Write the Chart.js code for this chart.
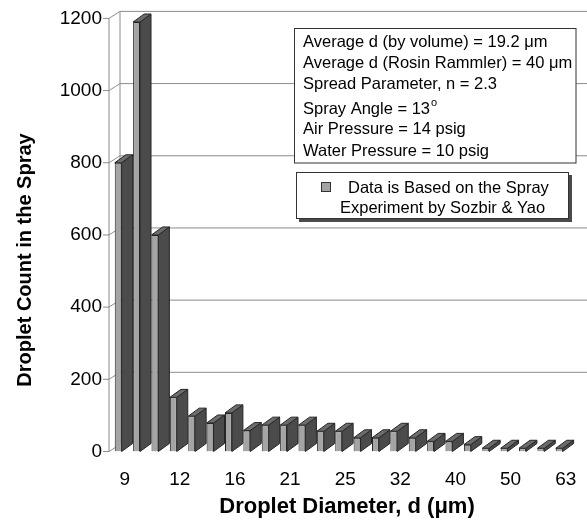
<!DOCTYPE html>
<html>
<head>
<meta charset="utf-8">
<script src="https://cdn.jsdelivr.net/npm/chart.js@4.4.1/dist/chart.umd.min.js"></script>
<style>
  html, body { margin: 0; padding: 0; background: #fff; }
  canvas { display: block; }
</style>
</head>
<body>
<canvas id="sprayChart" width="587" height="524"></canvas>
<script>
// droplet diameter bins (um); only every third one gets a tick label
const diameters = [9, 10, 11, 12, 13, 14, 16, 17, 19, 21, 22, 23, 25, 27, 29, 32, 34, 37, 40, 43, 46, 50, 54, 58, 63];
const shownDiameters = [9, 12, 16, 21, 25, 32, 40, 50, 63];
const dropletCounts = [800, 1190, 600, 150, 98, 79, 107, 58, 73, 73, 73, 56, 56, 38, 38, 56, 38, 28, 28, 19, 9, 9, 9, 9, 9];
const countMax = 1200;
const countStep = 200;

const infoLines = [
	'Average d (by volume) = 19.2 \u03bcm',
	'Average d (Rosin Rammler) = 40 \u03bcm',
	'Spread Parameter, n = 2.3',
	'Spray Angle = 13',
	'Air Pressure = 14 psig',
	'Water Pressure = 10 psig'
];
const legendLines = ['Data is Based on the Spray', 'Experiment by Sozbir & Yao'];

// fake 3D: wall and bar depth offsets
const WALL_DX = 11, WALL_DY = 7;
const BAR_DX = 11, BAR_DY = 8;

const FRONT = '#a4a4a4', SIDE = '#4b4b4b', TOP = '#6c6c6c', EDGE = '#262626';
const FONT = '"Liberation Sans", Arial, sans-serif';

function poly(ctx, pts, fill) {
	ctx.beginPath();
	ctx.moveTo(pts[0][0], pts[0][1]);
	for (let i = 1; i < pts.length; i++) ctx.lineTo(pts[i][0], pts[i][1]);
	ctx.closePath();
	ctx.fillStyle = fill;
	ctx.fill();
	ctx.stroke();
}

const depth3d = {
	id: 'depth3d',
	beforeDatasetsDraw(chart) {
		const ctx = chart.ctx;
		const y = chart.scales.y;
		const area = chart.chartArea;
		const y0 = y.getPixelForValue(0);
		const yTop = y.getPixelForValue(countMax);
		ctx.save();
		ctx.lineWidth = 1;
		ctx.strokeStyle = '#8c8c8c';
		ctx.beginPath();
		// front axis and back wall edge
		ctx.moveTo(area.left, y0);
		ctx.lineTo(area.left, yTop);
		ctx.moveTo(area.left + WALL_DX, y0 - WALL_DY);
		ctx.lineTo(area.left + WALL_DX, yTop - WALL_DY);
		for (let v = 0; v <= countMax; v += countStep) {
			const py = y.getPixelForValue(v);
			// tick mark, connector to wall, gridline on the wall
			ctx.moveTo(area.left - 6, py);
			ctx.lineTo(area.left, py);
			ctx.lineTo(area.left + WALL_DX, py - WALL_DY);
			if (v > 0) ctx.lineTo(chart.width, py - WALL_DY);
		}
		ctx.stroke();
		ctx.restore();
	},
	afterDatasetsDraw(chart) {
		const ctx = chart.ctx;
		const bars = chart.getDatasetMeta(0).data;
		ctx.save();
		ctx.lineWidth = 1;
		ctx.strokeStyle = EDGE;
		ctx.lineJoin = 'round';
		bars.forEach(bar => {
			const { x, y, base, width } = bar.getProps(['x', 'y', 'base', 'width'], true);
			const l = x - width / 2, r = x + width / 2;
			poly(ctx, [[r, y], [r + BAR_DX, y - BAR_DY], [r + BAR_DX, base - BAR_DY], [r, base]], SIDE);
			poly(ctx, [[l, y], [l + BAR_DX, y - BAR_DY], [r + BAR_DX, y - BAR_DY], [r, y]], TOP);
		});
		ctx.restore();
	},
	afterDraw(chart) {
		const ctx = chart.ctx;
		ctx.save();
		ctx.fillStyle = '#000';

		// axis titles
		ctx.textAlign = 'center';
		ctx.textBaseline = 'middle';
		ctx.font = 'bold 22px ' + FONT;
		ctx.fillText('Droplet Diameter, d (\u03bcm)', 347, 507);
		ctx.save();
		ctx.translate(25, 260);
		ctx.rotate(-Math.PI / 2);
		ctx.font = 'bold 20px ' + FONT;
		ctx.fillText('Droplet Count in the Spray', 0, 0);
		ctx.restore();

		// info box
		ctx.lineWidth = 1;
		ctx.fillStyle = '#fff';
		ctx.strokeStyle = '#333';
		ctx.fillRect(294.5, 28.5, 281.5, 134.5);
		ctx.strokeRect(294.5, 28.5, 281.5, 134.5);
		ctx.fillStyle = '#000';
		ctx.textAlign = 'left';
		ctx.textBaseline = 'alphabetic';
		ctx.font = '16.5px ' + FONT;
		const lineY = [41, 62, 83, 108, 128, 150];
		infoLines.forEach((t, i) => {
			ctx.fillText(t, 303, lineY[i] + 6);
		});
		// degree mark as a raised small "o"
		const angleW = ctx.measureText(infoLines[3]).width;
		ctx.font = '11px ' + FONT;
		ctx.fillText('o', 303 + angleW + 1, lineY[3] - 2);

		// legend box with drop shadow
		ctx.fillStyle = '#4a4a4a';
		ctx.fillRect(299, 175, 273, 47);
		ctx.fillStyle = '#fff';
		ctx.fillRect(296.5, 172.5, 272, 46);
		ctx.strokeStyle = '#333';
		ctx.strokeRect(296.5, 172.5, 272, 46);
		ctx.fillStyle = FRONT;
		ctx.fillRect(321.5, 182.5, 9, 9);
		ctx.strokeRect(321.5, 182.5, 9, 9);
		ctx.fillStyle = '#000';
		ctx.font = '16.5px ' + FONT;
		ctx.fillText(legendLines[0], 348, 187 + 6);
		ctx.fillText(legendLines[1], 340, 207 + 6);
		ctx.restore();
	}
};

new Chart(document.getElementById('sprayChart'), {
	type: 'bar',
	data: {
		labels: diameters,
		datasets: [{
			label: 'Droplet count',
			data: dropletCounts,
			backgroundColor: FRONT,
			borderColor: EDGE,
			borderWidth: 1,
			barPercentage: 0.375,
			categoryPercentage: 1
		}]
	},
	options: {
		responsive: false,
		animation: false,
		layout: {
			padding: { top: 15.5, right: 10.5, left: 0, bottom: 0 }
		},
		scales: {
			x: {
				grid: { display: false, drawTicks: false },
				border: { display: false },
				afterFit: s => { s.height = 72.5; },
				ticks: {
					autoSkip: false,
					maxRotation: 0,
					labelOffset: 6.5,
					padding: 17,
					color: '#000',
					font: { family: FONT, size: 19 },
					callback: function (val, i) {
						const d = diameters[i];
						return shownDiameters.includes(d) ? String(d) : '';
					}
				}
			},
			y: {
				min: 0,
				max: countMax,
				grid: { display: false, drawTicks: false },
				border: { display: false },
				afterFit: s => { s.width = 109; },
				ticks: {
					stepSize: countStep,
					padding: 7,
					color: '#000',
					font: { family: FONT, size: 19 },
					callback: v => String(v)
				}
			}
		},
		plugins: {
			legend: { display: false },
			tooltip: { enabled: false }
		}
	},
	plugins: [depth3d]
});
</script>
</body>
</html>
